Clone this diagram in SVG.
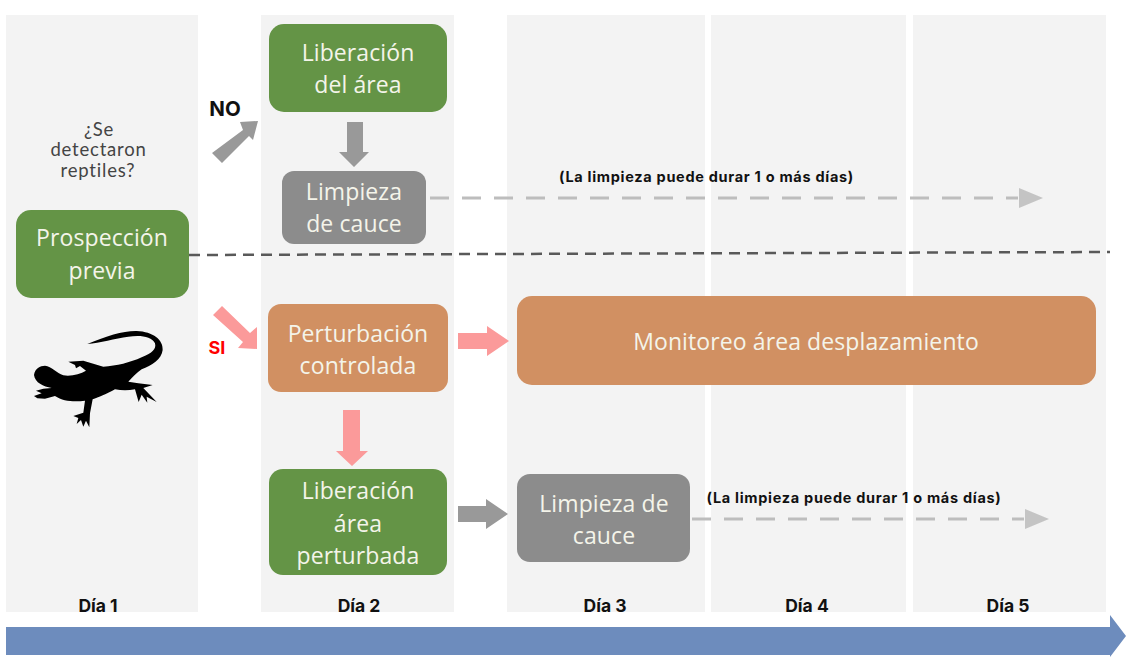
<svg xmlns="http://www.w3.org/2000/svg" width="1126" height="657" viewBox="0 0 1126 657">
<style>
.col{fill:#f3f3f3}
.box{stroke:none}
.g{fill:#649446}.y{fill:#8c8c8c}.o{fill:#d19062}
.t{font-family:"Open Sans","Liberation Sans",sans-serif;font-size:23px;fill:#f4f4ea;text-anchor:middle;letter-spacing:.1px}
.b{font-family:"Inter","Liberation Sans",sans-serif;font-weight:700;fill:#111;text-anchor:middle}
.day{font-size:17.5px}
.note{font-size:14.5px;letter-spacing:.7px}
.dash{fill:none;stroke:#bdbdbd;stroke-width:3;stroke-dasharray:19 13}
.ga{fill:#999}.pa{fill:#fb9a9a}
</style>
<rect width="1126" height="657" fill="#fff"/>
<g id="columns">
<rect class="col" x="6" y="15" width="192" height="597"/>
<rect class="col" x="261" y="15" width="193" height="597"/>
<rect class="col" x="507" y="15" width="198" height="597"/>
<rect class="col" x="711" y="15" width="195" height="597"/>
<rect class="col" x="913" y="15" width="193" height="597"/>
</g>
<g id="timeline"><path d="M6 627H1110V615L1126 636L1110 657V655H6Z" fill="#6d8cbd"/></g>
<g id="connectors">
<path d="M189 255L1110 252" fill="none" stroke="#595959" stroke-width="2.5" stroke-dasharray="11 7"/>
<path class="dash" d="M430 198H1018"/><path d="M1019 188L1043 198L1019 208Z" fill="#c4c4c4"/>
<path class="dash" d="M692 519H1024"/><path d="M1025 509L1049 519L1025 529Z" fill="#c4c4c4"/>
<path class="ga" d="M212 153L243 130L240 122L258 121L253 140L249 136L222 163Z"/>
<path class="ga" d="M347 122H363V152H369L354 167L339 152H347Z"/>
<path class="ga" d="M458 506H486V499L508 514L486 529V522H458Z"/>
<path class="pa" d="M458 333H487V326L509 341L487 356V349H458Z"/>
<path class="pa" d="M343 410H360V451H368L352 466L336 451H343Z"/>
<path class="pa" d="M213 315L222 306L250 333L257 327V349L238 348L243 342Z"/>
</g>
<g id="n-prospeccion"><rect class="box g" x="16" y="210" width="173" height="88" rx="15"/><text class="t" x="102" y="246">Prospección</text><text class="t" x="102" y="279">previa</text></g>
<g id="n-liberacion"><rect class="box g" x="269" y="24" width="178" height="88" rx="15"/><text class="t" x="358" y="61">Liberación</text><text class="t" x="358" y="93">del área</text></g>
<g id="n-limpieza1"><rect class="box y" x="282" y="171" width="144" height="73" rx="12"/><text class="t" x="354" y="200">Limpieza</text><text class="t" x="354" y="232">de cauce</text></g>
<g id="n-perturbacion"><rect class="box o" x="268" y="304" width="180" height="88" rx="13"/><text class="t" x="358" y="342">Perturbación</text><text class="t" x="358" y="374">controlada</text></g>
<g id="n-monitoreo"><rect class="box o" x="517" y="296" width="579" height="89" rx="15"/><text class="t" x="806" y="350">Monitoreo área desplazamiento</text></g>
<g id="n-liberacion2"><rect class="box g" x="269" y="469" width="178" height="106" rx="14"/><text class="t" x="358" y="499">Liberación</text><text class="t" x="358" y="532">área</text><text class="t" x="358" y="564">perturbada</text></g>
<g id="n-limpieza2"><rect class="box y" x="517" y="474" width="173" height="88" rx="13"/><text class="t" x="604" y="512">Limpieza de</text><text class="t" x="604" y="544">cauce</text></g>
<g id="labels">
<g font-family="'Lato','Liberation Sans',sans-serif" font-size="18.5" fill="#444" text-anchor="middle" letter-spacing=".8"><text x="99" y="136">¿Se</text><text x="98.5" y="156">detectaron</text><text x="98" y="177">reptiles?</text></g>
<text class="b" x="225" y="116" font-size="20.5">NO</text>
<text class="b" x="217" y="354" font-size="18" style="fill:#f00">SI</text>
<text class="b note" x="706.5" y="182">(La limpieza puede durar 1 o más días)</text>
<text class="b note" x="854" y="503">(La limpieza puede durar 1 o más días)</text>
<text class="b day" x="98" y="612">Día 1</text>
<text class="b day" x="359" y="612">Día 2</text>
<text class="b day" x="605" y="612">Día 3</text>
<text class="b day" x="807" y="612">Día 4</text>
<text class="b day" x="1008" y="612">Día 5</text>
</g>
<g id="lizard" transform="translate(0,300) scale(.3333)"><path fill="#000" d="M262 132C320 108 370 92 410 93C460 95 490 120 488 150C485 178 455 197 425 208C410 218 398 232 385 245L415 250L458 255L430 264L470 306L440 290L442 308L425 284L416 306L405 268C385 272 365 272 345 268C320 282 295 292 278 298L270 340L268 382L258 362L250 380L243 360L230 372L235 354L220 348L250 338L255 302C225 306 190 305 165 288L135 296L112 295L102 288L125 280L108 272L130 266L155 264C130 260 105 248 102 225C105 205 120 197 135 197C155 200 170 218 190 226C215 230 240 222 258 212L240 198L228 205L225 195L205 185L250 182L310 200C350 198 390 188 425 172C455 160 470 148 465 130C455 108 420 105 385 110C345 116 300 128 262 132Z"/></g>
</svg>
